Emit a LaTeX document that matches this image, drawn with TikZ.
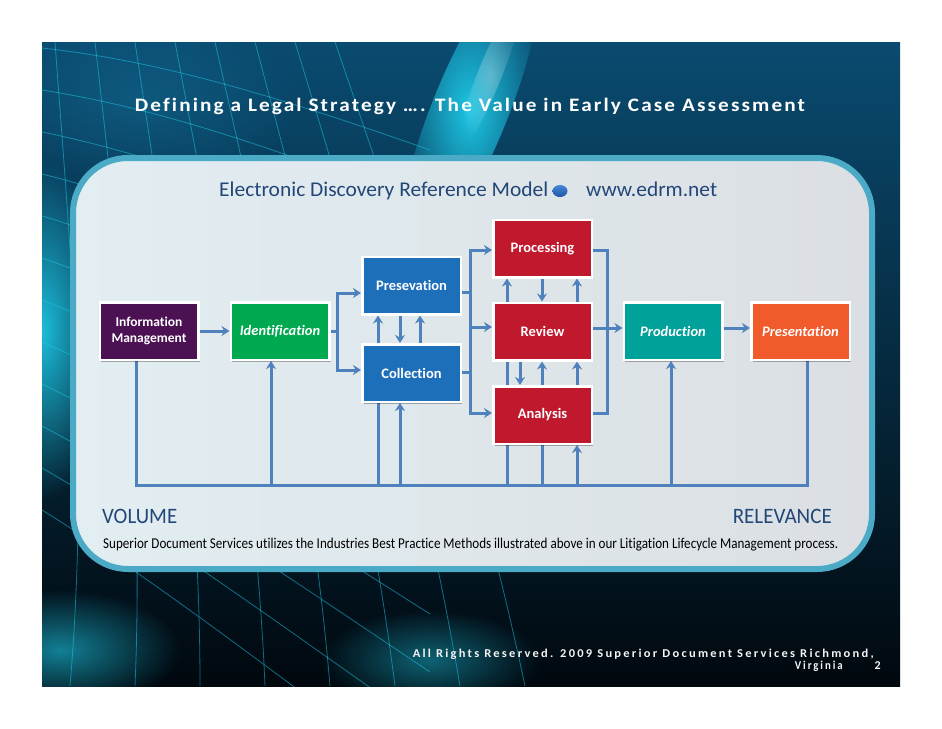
\documentclass[tikz,border=0pt]{standalone}
\usepackage{fontspec}
\usepackage{graphicx}
\setmainfont{Carlito}[Ligatures={NoCommon}]
\newfontfamily\titlefont[LetterSpace=10,Ligatures={NoCommon}]{Carlito}
\newfontfamily\footfont[LetterSpace=18,Ligatures={NoCommon}]{Carlito}
\usetikzlibrary{arrows.meta,shadows,shapes.geometric,fadings,backgrounds}
\definecolor{conn}{RGB}{79,129,189}
\definecolor{navytext}{RGB}{35,70,120}
\definecolor{cpurple}{RGB}{75,17,82}
\definecolor{cgreen}{RGB}{0,169,79}
\definecolor{cblue}{RGB}{30,111,186}
\definecolor{cred}{RGB}{192,25,45}
\definecolor{cteal}{RGB}{0,161,154}
\definecolor{corange}{RGB}{241,90,43}
\definecolor{pborder}{RGB}{75,170,198}
\definecolor{glowcyan}{RGB}{30,205,235}
\definecolor{midblue}{RGB}{20,110,150}
\definecolor{dottop}{RGB}{70,135,215}
\definecolor{dotbot}{RGB}{30,85,165}
\definecolor{bgtop}{RGB}{10,75,112}
\definecolor{bgmid}{RGB}{5,42,68}
\definecolor{bgbot}{RGB}{1,8,14}
\definecolor{panL}{RGB}{226,238,242}
\definecolor{panR}{RGB}{219,223,227}
\tikzfading[name=glow, inner color=transparent!0, outer color=transparent!100]
\tikzset{
  box/.style={draw=white, line width=2.5pt, minimum width=98.5pt, minimum height=57.5pt,
    inner sep=1pt, text=white, align=center, font=\bfseries\fontsize{14.5}{17}\selectfont,
    drop shadow={shadow xshift=1.5pt, shadow yshift=-2pt, opacity=0.3, fill=black}},
  itbox/.style={box, font=\bfseries\itshape\fontsize{14.5}{17}\selectfont},
  ln/.style={draw=conn, line width=3pt},
  arr/.style={ln, -{Stealth[length=8pt,width=10pt]}},
  wire/.style={draw=glowcyan, line width=0.8pt, opacity=0.5},
  navy/.style={inner sep=0pt, text=navytext},
  foot/.style={inner sep=0pt, text=white!92!gray, font=\footfont\bfseries\fontsize{12}{14}\selectfont},
}
\begin{document}
\begin{tikzpicture}[x=1pt,y=-1pt]
\useasboundingbox (0,0) rectangle (942,728);
\begin{scope}[on background layer]
  \fill[white] (0,0) rectangle (942,728);
  % slide background
  \fill[top color=bgtop, middle color=bgmid, bottom color=bgbot] (42,42) rectangle (900,686);
  \begin{scope}
    \clip (42,42) rectangle (900,686);
    \fill[glowcyan, path fading=glow, fill opacity=0.9] (42,330) ellipse [x radius=70pt, y radius=170pt];
    \fill[glowcyan, path fading=glow, fill opacity=0.6] (60,650) ellipse [x radius=120pt, y radius=60pt];
    \fill[glowcyan, path fading=glow, fill opacity=0.45] (430,660) ellipse [x radius=110pt, y radius=50pt];
    \begin{scope}[rotate around={-22:(470,110)}]
      \fill[glowcyan, path fading=glow, fill opacity=0.95] (470,110) ellipse [x radius=38pt, y radius=160pt];
      \fill[white, path fading=glow, fill opacity=0.3] (475,70) ellipse [x radius=12pt, y radius=80pt];
    \end{scope}
    \fill[midblue, path fading=glow, fill opacity=0.5] (140,100) ellipse [x radius=160pt, y radius=90pt];
    \foreach \i in {0,...,11}
      \draw[wire] (42,48+\i*42) .. controls (150,60+\i*47) and (260,90+\i*52) .. (430,150+\i*58);
    \foreach \j in {0,...,7}
      \draw[wire] (55+\j*40,42) .. controls (70+\j*48,250) and (90+\j*55,450) .. (70+\j*65,686);
  \end{scope}
  % panel
  \path[draw=pborder, line width=6pt, rounded corners=55pt, left color=panL, right color=panR]
        (73,158) rectangle (872,569);
\end{scope}

% title
\node[anchor=base, inner sep=0pt, text=white, font=\titlefont\bfseries\fontsize{19}{22}\selectfont] (title) at (470,111)
  {\resizebox{670pt}{\height}{Defining a Legal Strategy …. The Value in Early Case Assessment}};

% header
\node[navy, anchor=base west, font=\fontsize{21}{24}\selectfont] (hdr) at (219,196)
  {\resizebox{329pt}{\height}{Electronic Discovery Reference Model}};
\node[ellipse, minimum width=15pt, minimum height=12pt, inner sep=0pt, top color=dottop, bottom color=dotbot] (dot) at (560,191) {};
\node[navy, anchor=base west, font=\fontsize{21}{24}\selectfont] (url) at (586,196)
  {\resizebox{131pt}{\height}{www.edrm.net}};

% boxes
\node[box, fill=cpurple, font=\bfseries\fontsize{13.5}{16.5}\selectfont] (im) at (149,331) {Information\\Management};
\node[itbox, fill=cgreen] (id) at (280,331) {Identification};
\node[box, fill=cblue] (pres) at (411.5,285.5) {Presevation};
\node[box, fill=cblue] (coll) at (411.5,373) {Collection};
\node[box, fill=cred] (proc) at (542.5,248.5) {Processing};
\node[box, fill=cred] (rev) at (542.5,331.5) {Review};
\node[box, fill=cred] (ana) at (542.5,415) {Analysis};
\node[itbox, fill=cteal] (prod) at (673,331) {Production};
\node[itbox, fill=corange] (prst) at (800.5,331) {Presentation};

% labels
\node[navy, anchor=base west, font=\fontsize{22}{24}\selectfont] (vol) at (102,523) {\resizebox{75pt}{\height}{VOLUME}};
\node[navy, anchor=base east, font=\fontsize{22}{24}\selectfont] (relv) at (832,523) {\resizebox{99pt}{\height}{RELEVANCE}};
\node[anchor=base west, inner sep=0pt, text=black, font=\fontsize{15}{17}\selectfont] (cap) at (103,548)
  {\resizebox{735pt}{\height}{Superior Document Services utilizes the Industries Best Practice Methods illustrated above in our Litigation Lifecycle Management process.}};

% footer
\node[foot, anchor=base east] (f1) at (874,657)
  {\resizebox{461pt}{\height}{All Rights Reserved. 2009 Superior Document Services Richmond,}};
\node[foot, anchor=base east] (f2) at (843,669) {\resizebox{48pt}{\height}{Virginia}};
\node[foot, anchor=base east] (f3) at (881,669) {2};

% junction coordinates
\coordinate (sa) at (337,293); \coordinate (sb) at (337,370);
\coordinate (jp) at (470,292); \coordinate (jc) at (470,372);
\coordinate (ta) at (470,250); \coordinate (tb) at (470,327); \coordinate (tc) at (470,413);
\coordinate (ra) at (607,250); \coordinate (rb) at (607,328); \coordinate (rc) at (607,413);
\coordinate (c420) at (420,360); \coordinate (c520) at (520,373);
\coordinate (b1) at (136,485); \coordinate (b2) at (271,485); \coordinate (b3) at (378,485);
\coordinate (b4) at (400,485); \coordinate (b5) at (507,485); \coordinate (b6) at (542,485);
\coordinate (b7) at (577,485); \coordinate (b8) at (671,485); \coordinate (b9) at (807,485);

\begin{scope}[on background layer]
  \draw[arr] (im.east) -- (id.west);
  \draw[ln] (id.east) -- (id.east -| sa);
  \draw[arr] (id.east -| sa) |- (pres.west |- sa);
  \draw[arr] (id.east -| sa) |- (coll.west |- sb);
  % preservation / collection
  \draw[arr] (coll.north -| b3) -- (pres.south -| b3);
  \draw[arr] (pres.south -| b4) -- (coll.north -| b4);
  \draw[arr] (coll.north -| c420) -- (pres.south -| c420);
  \draw[ln] (pres.east |- jp) -- (jp);
  \draw[ln] (coll.east |- jc) -- (jc);
  \draw[ln] (jp) -- (jc);
  \draw[arr] (jp) |- (proc.west |- ta);
  \draw[arr] (jc) |- (ana.west |- tc);
  \draw[arr] (tb) -- (rev.west |- tb);
  % processing / review / analysis
  \draw[arr] (rev.north -| b5) -- (proc.south -| b5);
  \draw[arr] (proc.south -| b6) -- (rev.north -| b6);
  \draw[arr] (rev.north -| b7) -- (proc.south -| b7);
  \draw[ln] (rev.south -| b5) -- (ana.north -| b5);
  \draw[arr] (rev.south -| c520) -- (ana.north -| c520);
  \draw[arr] (ana.north -| b6) -- (rev.south -| b6);
  \draw[arr] (ana.north -| b7) -- (rev.south -| b7);
  \draw[ln] (proc.east |- ra) -| (rc) -- (ana.east |- rc);
  \draw[arr] (rev.east |- rb) -- (prod.west |- rb);
  \draw[arr] (prod.east |- rb) -- (prst.west |- rb);
  % bottom bus
  \draw[ln] (im.south -| b1) -- (b1) -- (b9) -- (prst.south -| b9);
  \draw[arr] (b2) -- (id.south -| b2);
  \draw[ln] (coll.south -| b3) -- (b3);
  \draw[arr] (b4) -- (coll.south -| b4);
  \draw[ln] (ana.south -| b5) -- (b5);
  \draw[ln] (ana.south -| b6) -- (b6);
  \draw[arr] (b7) -- (ana.south -| b7);
  \draw[arr] (b8) -- (prod.south -| b8);
\end{scope}
\end{tikzpicture}
\end{document}
